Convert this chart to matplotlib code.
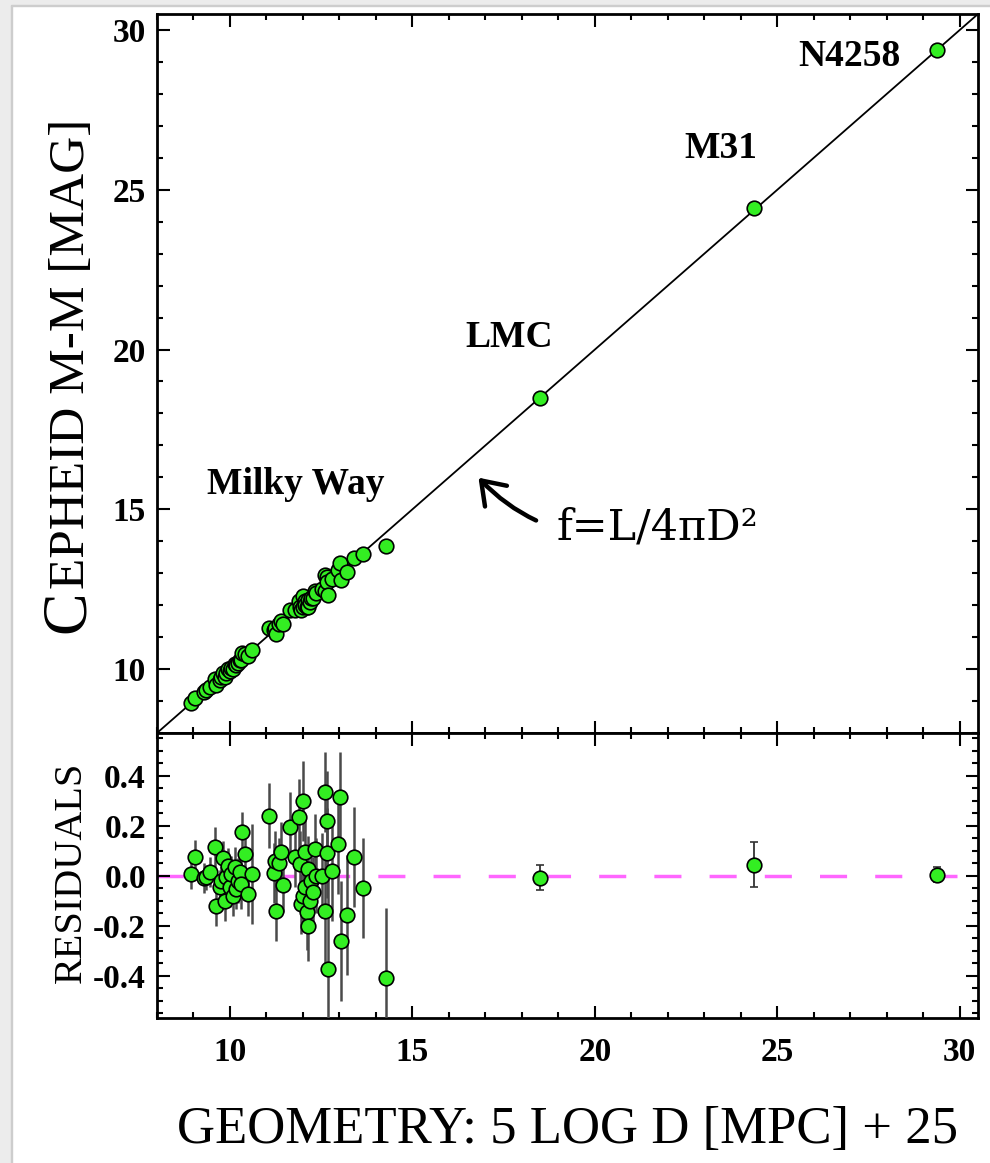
import numpy as np
import matplotlib
matplotlib.use("Agg")
import matplotlib.pyplot as plt
from matplotlib.ticker import MultipleLocator
from matplotlib.patches import Rectangle

plt.rcParams["font.family"] = ["Liberation Serif", "DejaVu Serif"]
plt.rcParams["font.weight"] = "bold"
plt.rcParams["axes.unicode_minus"] = False

# Milky Way Cepheids: geometric distance modulus, Cepheid residual, error
mw_mod = np.array([
    8.94, 9.03, 9.30, 9.35, 9.44, 9.58, 9.62, 9.72, 9.76, 9.81,
    9.85, 9.90, 9.95, 9.99, 10.04, 10.08, 10.13, 10.17, 10.22, 10.27,
    10.31, 10.33, 10.40, 10.49, 10.59, 11.06, 11.21, 11.23, 11.25, 11.35,
    11.41, 11.46, 11.64, 11.78, 11.89, 11.91, 11.96, 12.00, 12.01, 12.05,
    12.05, 12.10, 12.14, 12.14, 12.19, 12.23, 12.28, 12.33, 12.37, 12.51,
    12.60, 12.60, 12.65, 12.65, 12.69, 12.80, 12.97, 13.01, 13.04, 13.20,
    13.41, 13.65, 14.27,
])
mw_resid = np.array([
    0.007, 0.073, -0.009, -0.007, 0.013, 0.116, -0.120, -0.047, -0.020, 0.070,
    -0.100, -0.007, 0.040, -0.047, 0.007, -0.080, 0.033, -0.053, -0.020, 0.013,
    -0.033, 0.176, 0.087, -0.073, 0.007, 0.240, 0.009, 0.060, -0.143, 0.050,
    0.093, -0.036, 0.196, 0.073, 0.236, 0.047, -0.113, 0.297, -0.080, 0.093,
    -0.047, -0.147, 0.027, -0.200, -0.100, -0.020, -0.067, 0.107, 0.000, 0.000,
    0.333, -0.143, 0.220, 0.089, -0.373, 0.020, 0.127, 0.313, -0.260, -0.156,
    0.073, -0.049, -0.409,
])
mw_err = np.array([
    0.06, 0.07, 0.06, 0.05, 0.06, 0.08, 0.08, 0.07, 0.06, 0.07,
    0.08, 0.07, 0.07, 0.08, 0.07, 0.08, 0.08, 0.08, 0.09, 0.08,
    0.10, 0.08, 0.10, 0.09, 0.20, 0.13, 0.12, 0.12, 0.12, 0.10,
    0.12, 0.11, 0.14, 0.12, 0.15, 0.13, 0.12, 0.16, 0.13, 0.14,
    0.12, 0.15, 0.13, 0.14, 0.13, 0.12, 0.14, 0.14, 0.15, 0.17,
    0.16, 0.22, 0.20, 0.18, 0.36, 0.20, 0.20, 0.18, 0.24, 0.24,
    0.20, 0.20, 0.28,
])

# Extragalactic anchors
host_names = ["LMC", "M31", "N4258"]
host_mod = np.array([18.49, 24.37, 29.37])
host_resid = np.array([-0.008, 0.044, 0.004])
host_err = np.array([0.05, 0.09, 0.03])

GREEN = "#33ee22"
W, H = 990, 1163

fig = plt.figure(figsize=(W / 100, H / 100), dpi=100, facecolor="white")
# light grey frame strips along the left and top edges
fig.patches.append(Rectangle((0, 0), 11 / W, 1, transform=fig.transFigure,
                             color="#ececec", zorder=-2))
fig.patches.append(Rectangle((11 / W, 0), 1.2 / W, 1, transform=fig.transFigure,
                             color="#cdcdcd", zorder=-2))
fig.patches.append(Rectangle((0, 1 - 5 / H), 1, 5 / H, transform=fig.transFigure,
                             color="#ececec", zorder=-2))
fig.patches.append(Rectangle((11 / W, 1 - 6.2 / H), 1, 1.2 / H,
                             transform=fig.transFigure, color="#cdcdcd", zorder=-2))

left, right = 157 / W, 978 / W
top, mid, bot = 1 - 14 / H, 1 - 733 / H, 1 - 1018 / H
ax = fig.add_axes([left, mid, right - left, top - mid])
ax2 = fig.add_axes([left, bot, right - left, mid - bot], sharex=ax)

lo, hi = 8.0, 30.5
all_mod = np.concatenate([mw_mod, host_mod])
all_resid = np.concatenate([mw_resid, host_resid])

# top panel: Cepheid vs geometric modulus
ax.plot([lo, hi], [lo, hi], color="black", lw=1.3, zorder=1)
ax.plot(all_mod, all_mod + all_resid, "o", ms=10.5, mfc=GREEN, mec="black",
        mew=1.2, zorder=3)
ax.set_xlim(lo, hi)
ax.set_ylim(lo, hi)
ax.yaxis.set_major_locator(MultipleLocator(5))
ax.yaxis.set_minor_locator(MultipleLocator(1))
ax.tick_params(labelbottom=False)

label_pos = {"N4258": (26.98, 29.18), "M31": (23.46, 26.29),
             "LMC": (17.64, 20.39), "Milky Way": (11.79, 15.78)}
for name, (tx, ty) in label_pos.items():
    ax.text(tx, ty, name, fontsize=27, fontweight="bold", ha="center",
            va="center")

ax.annotate("f=L/4πD²", xy=(16.81, 15.99), xytext=(18.96, 14.05),
            fontsize=31, fontweight="normal", family="DejaVu Serif",
            ha="left", va="baseline",
            arrowprops=dict(arrowstyle="->,head_length=0.5,head_width=0.35",
                            lw=3.2, color="black", shrinkA=14, shrinkB=0,
                            connectionstyle="arc3,rad=-0.3"))

# bottom panel: residuals
ax2.axhline(0, color="#ff66ff", lw=2.5, dashes=(7.8, 8.1), zorder=1)
ax2.errorbar(mw_mod, mw_resid, yerr=mw_err, fmt="o", ms=10.5, mfc=GREEN,
             mec="black", mew=1.2, ecolor="#4a4a4a", elinewidth=1.8,
             capsize=0, zorder=3)
ax2.errorbar(host_mod, host_resid, yerr=host_err, fmt="o", ms=10.5, mfc=GREEN,
             mec="black", mew=1.2, ecolor="#333333", elinewidth=1.3,
             capsize=3, capthick=1.3, zorder=3)
ax2.set_ylim(-0.57, 0.57)
ax2.yaxis.set_major_locator(MultipleLocator(0.2))
ax2.yaxis.set_minor_locator(MultipleLocator(0.05))
ax2.yaxis.set_major_formatter(lambda v, p: f"{v:.1f}".replace("-0.0", "0.0"))
ax2.xaxis.set_major_locator(MultipleLocator(5))
ax2.xaxis.set_minor_locator(MultipleLocator(1))

for a in (ax, ax2):
    for s in a.spines.values():
        s.set_linewidth(2.0)
    a.tick_params(which="both", direction="in", top=True, right=True,
                  width=1.5, labelsize=24)
    a.tick_params(which="major", length=9)
    a.tick_params(which="minor", length=4.5)
    a.tick_params(axis="y", pad=8)
ax2.tick_params(axis="x", pad=14)

# axis titles in small capitals
ax2.text(0.5, -0.44, "GEOMETRY: 5 LOG D [MPC] + 25", transform=ax2.transAxes,
         fontsize=38, fontweight="normal", ha="center", va="baseline")
fig.text(81 / W, 1 - 872 / H, "RESIDUALS", rotation=90,
         fontsize=29, fontweight="normal", ha="center", va="baseline",
         rotation_mode="anchor")

cap = fig.text(84 / W, 1 - 633 / H, "C", rotation=90, rotation_mode="anchor",
               fontsize=46, fontweight="normal", ha="left", va="baseline")
fig.canvas.draw()
bb = cap.get_window_extent()
fig.text(84 / W, (bb.y1 + 1) / H, "EPHEID M-M [MAG]", rotation=90,
         rotation_mode="anchor", fontsize=37, fontweight="normal",
         ha="left", va="baseline")

fig.savefig("out.png", dpi=100)
